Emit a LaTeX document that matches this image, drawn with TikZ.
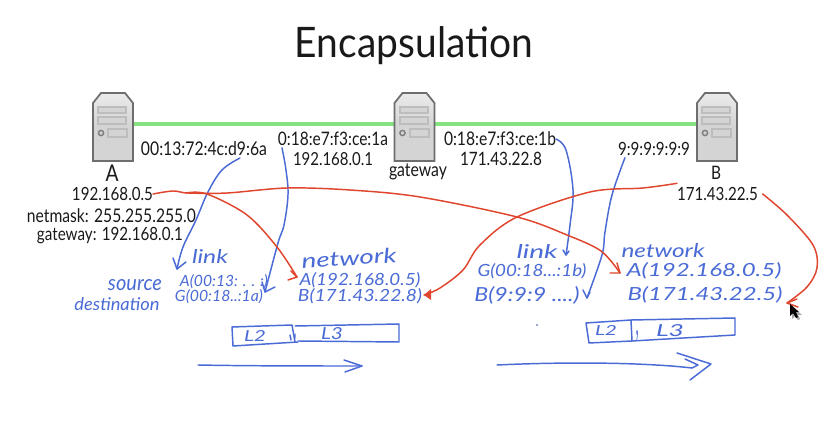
\documentclass[tikz,border=0pt]{standalone}
\usepackage{graphicx}
\usepackage{fontspec}
\setmainfont{Lato}
\newlength\pxu \setlength\pxu{0.75pt}
\newcommand\tw[2]{\scalebox{1}[1.2]{\resizebox{#1\pxu}{!}{#2}}}
\newcommand\hw[3]{\resizebox{#1\pxu}{#2\pxu}{\itshape #3}}
\definecolor{inkblue}{HTML}{4A6BD6}
\definecolor{inkred}{HTML}{E0452E}
\definecolor{linkgreen}{HTML}{86E27F}
\definecolor{srvedge}{HTML}{6E6E6E}
\definecolor{srvbody}{HTML}{D4D4D4}
\definecolor{srvpanel}{HTML}{BDBDBD}
\tikzset{
  lbl/.style={inner sep=0pt,outer sep=0pt,text=black!90},
  hand/.style={inner sep=0pt,outer sep=0pt,text=inkblue},
  srvnode/.style={inner sep=0pt,outer sep=0pt,minimum width=30pt,minimum height=51pt},
  blueink/.style={draw=inkblue,line width=1.1pt,line cap=round,line join=round},
  redink/.style={draw=inkred,line width=1.1pt,line cap=round,line join=round},
  greenlink/.style={draw=linkgreen,line width=2.4pt},
  pics/serverart/.style={code={
    \path[draw=srvedge,line width=1.3pt,top color=white!92!black,bottom color=srvbody,middle color=srvbody]
      (-20,34) -- (-20,-24) -- (-12,-34) -- (12,-34) -- (20,-24) -- (20,34) -- cycle;
    \fill[srvbody] (-16,-2) rectangle (16,31);
    \fill[srvpanel] (-16,-21) rectangle (14,-13);
    \fill[srvbody] (-14,-19) rectangle (12,-15);
    \fill[srvpanel] (-16,-11) rectangle (14,-2);
    \fill[srvbody] (-14,-9) rectangle (12,-4);
    \fill[srvpanel] (-6,1) rectangle (15,11);
    \fill[srvbody] (-4,3) rectangle (13,9);
    \draw[black!50,line width=1.1pt,fill=srvbody] (-12,6) circle (2.6);
  }}
}
\begin{document}
\begin{tikzpicture}[x=0.75pt,y=-0.75pt]
\useasboundingbox (0,0) rectangle (829,427);
\fill[white] (0,0) rectangle (829,427);

% title
\node[lbl] (title) at (414,46) {\scalebox{1}[1.08]{\resizebox{238\pxu}{!}{Encapsulation}}};

% servers
\node[srvnode] (srvA) at (113,127) {};
\node[srvnode] (srvG) at (414.5,127) {};
\node[srvnode] (srvB) at (717,127) {};
\draw[greenlink] ([yshift=2.2pt]srvA.east) -- ([yshift=2.2pt]srvG.west);
\draw[greenlink] ([yshift=2.2pt]srvG.east) -- ([yshift=2.2pt]srvB.west);
\pic at (srvA.center) {serverart};
\pic at (srvG.center) {serverart};
\pic at (srvB.center) {serverart};

% printed labels
\node[lbl] (nameA) at (112,173) {\tw{13}{A}};
\node[lbl] (ipA) at (112.5,194) {\tw{81}{192.168.0.5}};
\node[lbl] (maskA) at (111.5,216) {\tw{169}{netmask: 255.255.255.0}};
\node[lbl] (gwA) at (110,236) {\tw{146}{gateway: 192.168.0.1}};
\node[lbl] (macA) at (204,149) {\tw{126}{00:13:72:4c:d9:6a}};
\node[lbl] (macGa) at (333,139) {\tw{110}{0:18:e7:f3:ce:1a}};
\node[lbl] (ipGa) at (333,159) {\tw{80}{192.168.0.1}};
\node[lbl] (nameG) at (418,172) {\tw{58}{gateway}};
\node[lbl] (macGb) at (500,139) {\tw{112}{0:18:e7:f3:ce:1b}};
\node[lbl] (ipGb) at (501,159) {\tw{82}{171.43.22.8}};
\node[lbl] (macB) at (654,149) {\tw{72}{9:9:9:9:9:9}};
\node[lbl] (nameB) at (716,173) {\tw{10}{B}};
\node[lbl] (ipB) at (717.5,194) {\tw{81}{171.43.22.5}};

% handwritten, first hop
\node[hand] (linkL) at (210,257) {\hw{36}{14}{link}};
\node[hand] (srcL) at (135,285) {\hw{54}{11}{source}};
\node[hand] (dstL) at (117,304) {\hw{85}{13}{destination}};
\node[hand] (srcA) at (224,282) {\hw{88}{12}{A(00:13: . . :)}};
\node[hand] (dstG) at (219,297) {\hw{88}{12}{G(00:18..:1a)}};
\node[hand,rotate=4] (netL) at (349,258) {\hw{95}{15}{network}};
\node[hand] (netA1) at (360,280) {\hw{121}{13}{A(192.168.0.5)}};
\node[hand] (netB1) at (360,296) {\hw{124}{13}{B(171.43.22.8)}};

% handwritten, second hop
\node[hand] (linkR) at (537,252) {\hw{41}{14}{link}};
\node[hand] (srcR) at (532,271) {\hw{109}{13}{G(00:18...:1b)}};
\node[hand] (dstR) at (527,295) {\hw{105}{15}{B(9:9:9 ....)}};
\node[hand] (netR) at (663,251) {\hw{83}{14}{network}};
\node[hand] (netA2) at (704,271) {\hw{155}{14}{A(192.168.0.5)}};
\node[hand] (netB2) at (705,295) {\hw{155}{14}{B(171.43.22.5)}};

% frames
\draw[blueink] (232,327) -- (292,325) -- (295,342) -- (298,342) -- (233,346) -- cycle;
\draw[blueink] (295,326) -- (399,324) -- (399,342) -- (298,341);
\draw[blueink] (290,335) -- (291,340) (295,334) -- (295,338);
\node[hand] (l2a) at (255,336) {\hw{22}{11}{L2}};
\node[hand] (l3a) at (332,334) {\hw{22}{12}{L3}};
\draw[blueink] (586,323) -- (631,320) -- (735,318) -- (735,335) -- (632,341) -- (589,343) -- cycle;
\draw[blueink] (631,320) -- (632,341);
\node[hand] (l2b) at (606,331) {\hw{22}{10}{L2}};
\node[hand] (comma) at (638,336) {\hw{3}{5}{,}};
\node[hand] (l3b) at (670,331) {\hw{28}{12}{L3}};
\fill[inkblue!70!black] (537,325) circle (0.8);

% timeline arrows
\coordinate (t1s) at (198,365); \coordinate (t1e) at (362,366);
\draw[blueink] (t1s) .. controls (250,366) and (310,366) .. (t1e);
\draw[blueink] (344,360) -- (t1e) -- (345,372);
\coordinate (t2s) at (497,365); \coordinate (t2e) at (711,364);
\draw[blueink] (t2s) .. controls (560,362) and (640,362) .. (692,368);
\draw[blueink] (677,353) -- (t2e) -- (690,380);
\draw[blueink] (692,368) -- (698,365) -- (685,359);

% blue connectors
\coordinate (b1tip) at (177,269);
\draw[blueink] plot[smooth,tension=.6] coordinates {([shift={(-27,2)}]macA.south east) (222,170) (208,192) (196,220) (183,247) (b1tip)};
\draw[blueink] (173,258) -- (b1tip) -- (186,262);
\coordinate (b2tip) at (265,292);
\draw[blueink] plot[smooth,tension=.6] coordinates {([shift={(4,2)}]macGa.south west) (286,170) (288,195) (284,225) (278,243) (b2tip)};
\draw[blueink] (262,282) -- (b2tip) -- (275,287);
\coordinate (b3tip) at (566,255);
\draw[blueink] plot[smooth,tension=.6] coordinates {(macGb.east) (566,150) (573,190) (570,225) (b3tip)};
\draw[blueink] (563,250) -- (b3tip) -- (569,251);
\coordinate (b4tip) at (587,298);
\draw[blueink] plot[smooth,tension=.6] coordinates {([shift={(7,2)}]macB.south west) (612,195) (605,232) (602,255) (b4tip)};
\draw[blueink] (583,290) -- (b4tip) -- (590,292);

% red connectors
\coordinate (r1tip) at (620,273);
\draw[redink] plot[smooth,tension=.55] coordinates {(ipA.east) (173,191) (188,193) (227,193) (287,188) (350,190) (420,197) (517,217) (567,235) (601,251) (r1tip)};
\draw[redink] (610,273) -- (r1tip) -- (617,263);
\coordinate (r2tip) at (297,277);
\draw[redink] plot[smooth,tension=.55] coordinates {(186,193) (207,194) (247,215) (277,247) (r2tip)};
\draw[redink] (288,280) -- (r2tip) -- (291,271);
\coordinate (r3tip) at (424,295);
\draw[redink] plot[smooth,tension=.55] coordinates {([yshift=3pt]ipB.north west) (643,188) (590,192) (517,217) (480,245) (463,270) (440,288) (r3tip)};
\fill[inkred] (r3tip) -- (431,289) -- (431,300) -- cycle;
\coordinate (r4tip) at (787,303);
\draw[redink] plot[smooth,tension=.55] coordinates {([xshift=3.5pt]ipB.east) (787,215) (813,245) (817,268) (807,287) (r4tip)};
\draw[redink] (r4tip) -- (797,299) (r4tip) -- (798,307);

% pointer
\fill[black!35] (792,306) -- (792,319) -- (795,316) -- (798,320) -- (800,319) -- (798,315) -- (802,315) -- cycle;
\fill[black] (790,304) -- (790,316) -- (793,313) -- (796,318) -- (798,317) -- (796,312) -- (799,312) -- cycle;
\end{tikzpicture}
\end{document}
